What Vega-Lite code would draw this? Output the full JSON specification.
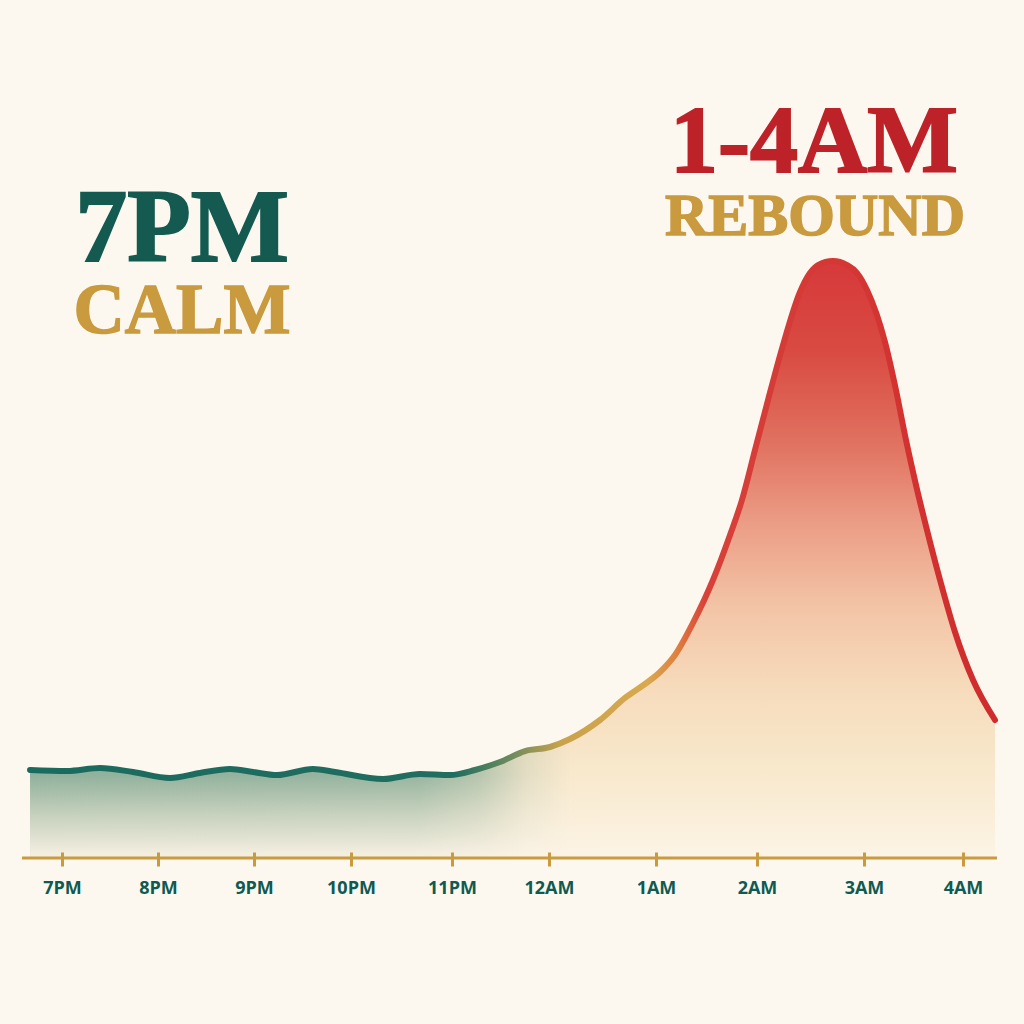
{
  "$schema": "https://vega.github.io/schema/vega-lite/v6.json",
  "width": 975,
  "height": 858,
  "autosize": "none",
  "padding": {"left": 22, "top": 0, "right": 27, "bottom": 166},
  "background": "#fcf8ef",
  "config": {"view": {"stroke": null}},
  "datasets": {
    "curve": [
      {"t": -0.333, "level": 14.67},
      {"t": 0.052, "level": 14.5},
      {"t": 0.396, "level": 15.0},
      {"t": 0.74, "level": 14.33},
      {"t": 1.125, "level": 13.33},
      {"t": 1.4375, "level": 14.17},
      {"t": 1.75, "level": 14.83},
      {"t": 1.99, "level": 14.33},
      {"t": 2.237, "level": 13.83},
      {"t": 2.608, "level": 14.83},
      {"t": 2.835, "level": 14.33},
      {"t": 3.317, "level": 13.17},
      {"t": 3.683, "level": 14.0},
      {"t": 3.98, "level": 13.83},
      {"t": 4.237, "level": 14.67},
      {"t": 4.495, "level": 16.0},
      {"t": 4.753, "level": 17.83},
      {"t": 5.009, "level": 18.5},
      {"t": 5.196, "level": 19.83},
      {"t": 5.477, "level": 23.0},
      {"t": 5.71, "level": 26.67},
      {"t": 5.897, "level": 29.0},
      {"t": 6.04, "level": 31.0},
      {"t": 6.188, "level": 33.83},
      {"t": 6.366, "level": 39.17},
      {"t": 6.564, "level": 46.33},
      {"t": 6.733, "level": 53.83},
      {"t": 6.851, "level": 59.67},
      {"t": 6.98, "level": 68.0},
      {"t": 7.103, "level": 76.33},
      {"t": 7.243, "level": 85.5},
      {"t": 7.402, "level": 94.33},
      {"t": 7.495, "level": 97.5},
      {"t": 7.57, "level": 98.83},
      {"t": 7.71, "level": 99.5},
      {"t": 7.841, "level": 98.83},
      {"t": 7.935, "level": 97.5},
      {"t": 8.03, "level": 94.67},
      {"t": 8.212, "level": 86.0},
      {"t": 8.323, "level": 78.0},
      {"t": 8.424, "level": 69.67},
      {"t": 8.525, "level": 62.17},
      {"t": 8.636, "level": 54.67},
      {"t": 8.768, "level": 46.33},
      {"t": 8.919, "level": 37.67},
      {"t": 9.101, "level": 29.67},
      {"t": 9.323, "level": 23.0}
    ],
    "notes": [
      {"label": "7PM"},
      {"label": "CALM"},
      {"label": "1-4AM"},
      {"label": "REBOUND"}
    ]
  },
  "layer": [
    {
      "data": {"name": "curve"},
      "mark": {
        "type": "area",
        "interpolate": "monotone",
        "line": false,
        "fill": {
          "gradient": "linear", "x1": 0, "y1": 0, "x2": 0, "y2": 1,
          "stops": [
            {"offset": 0, "color": "#d6393a"},
            {"offset": 0.15, "color": "#d94a42"},
            {"offset": 0.3, "color": "#e0705f"},
            {"offset": 0.45, "color": "#eca088"},
            {"offset": 0.58, "color": "#f3c4a6"},
            {"offset": 0.72, "color": "#f6dcbc"},
            {"offset": 0.85, "color": "#f8e8cc"},
            {"offset": 1, "color": "#fcf4e6"}
          ]
        }
      },
      "encoding": {
        "x": {
          "field": "t",
          "type": "quantitative",
          "scale": {"domain": [0, 1, 2, 3, 4, 5, 6, 7, 8, 9], "range": [40, 136, 232, 329, 430, 527, 634, 735, 842, 941], "nice": false, "zero": false},
          "axis": {
            "values": [0, 1, 2, 3, 4, 5, 6, 7, 8, 9],
            "labelExpr": "['7PM','8PM','9PM','10PM','11PM','12AM','1AM','2AM','3AM','4AM'][datum.value]",
            "domain": false,
            "grid": false,
            "title": null,
            "offset": -6,
            "zindex": 1,
            "tickSize": 14,
            "tickWidth": 3,
            "tickColor": "#c99a3e",
            "labelFont": "Open Sans",
            "labelFontWeight": "bold",
            "labelFontSize": 18,
            "labelColor": "#0f5a51",
            "labelPadding": 13,
            "labelFlush": false,
            "labelOverlap": false
          }
        },
        "y": {
          "field": "level",
          "type": "quantitative",
          "scale": {"domain": [0, 143], "nice": false, "zero": true},
          "axis": null
        }
      }
    },
    {
      "data": {"name": "curve"},
      "transform": [{"filter": "datum.t <= 5.2"}],
      "mark": {
        "type": "area", "interpolate": "monotone", "line": false,
        "fill": {"gradient": "linear", "x1": 0, "y1": 0, "x2": 1, "y2": 0,
          "stops": [
            {"offset": 0, "color": "rgba(42,122,108,0.5)"},
            {"offset": 0.72, "color": "rgba(42,122,108,0.47)"},
            {"offset": 0.83, "color": "rgba(42,122,108,0.32)"},
            {"offset": 0.92, "color": "rgba(42,122,108,0.1)"},
            {"offset": 1, "color": "rgba(42,122,108,0)"}
          ]}
      },
      "encoding": {
        "x": {"field": "t", "type": "quantitative"},
        "y": {"field": "level", "type": "quantitative"}
      }
    },
    {
      "data": {"name": "curve"},
      "transform": [{"filter": "datum.t <= 5.5"}],
      "mark": {
        "type": "area", "interpolate": "monotone", "line": false,
        "fill": {"gradient": "linear", "x1": 0, "y1": 0, "x2": 0, "y2": 1,
          "stops": [
            {"offset": 0, "color": "rgba(247,224,194,0)"},
            {"offset": 0.4, "color": "rgba(248,233,205,0)"},
            {"offset": 0.69, "color": "rgba(250,238,217,0.5)"},
            {"offset": 0.96, "color": "rgba(252,243,229,0.9)"},
            {"offset": 1, "color": "rgba(252,244,230,0.92)"}
          ]}
      },
      "encoding": {
        "x": {"field": "t", "type": "quantitative"},
        "y": {"field": "level", "type": "quantitative"}
      }
    },
    {
      "data": {"name": "notes"},
      "transform": [{"filter": "datum.label == '7PM'"}],
      "mark": {"type": "rule", "stroke": "#c99a3e", "strokeWidth": 3},
      "encoding": {
        "x": {"datum": -0.4167, "type": "quantitative"},
        "x2": {"datum": 9.343},
        "y": {"datum": 0, "type": "quantitative"}
      }
    },
    {
      "data": {"name": "curve"},
      "mark": {
        "type": "line",
        "interpolate": "monotone",
        "strokeWidth": 6,
        "strokeCap": "round",
        "stroke": {
          "gradient": "linear", "x1": 0, "y1": 0, "x2": 1, "y2": 0,
          "stops": [
            {"offset": 0, "color": "#1a6a5e"},
            {"offset": 0.44, "color": "#1f6e60"},
            {"offset": 0.5, "color": "#6f8b5e"},
            {"offset": 0.55, "color": "#c9a24c"},
            {"offset": 0.64, "color": "#d8a94e"},
            {"offset": 0.67, "color": "#e0803f"},
            {"offset": 0.70, "color": "#d8413a"},
            {"offset": 1, "color": "#cf2c2d"}
          ]
        }
      },
      "encoding": {
        "x": {"field": "t", "type": "quantitative"},
        "y": {"field": "level", "type": "quantitative"}
      }
    },
    {
      "data": {"name": "notes"},
      "transform": [{"filter": "datum.label == '7PM'"}],
      "mark": {"type": "text", "font": "Liberation Serif", "fontWeight": "bold", "fontSize": 104, "fill": "#145a50", "stroke": "#145a50", "strokeWidth": 2, "align": "center", "baseline": "alphabetic"},
      "encoding": {"text": {"field": "label"}, "x": {"datum": 1.25, "type": "quantitative"}, "y": {"datum": 99.5, "type": "quantitative"}}
    },
    {
      "data": {"name": "notes"},
      "transform": [{"filter": "datum.label == 'CALM'"}],
      "mark": {"type": "text", "font": "Liberation Serif", "fontWeight": "bold", "fontSize": 71, "fill": "#c99a3e", "stroke": "#c99a3e", "strokeWidth": 1.5, "align": "center", "baseline": "alphabetic"},
      "encoding": {"text": {"field": "label"}, "x": {"datum": 1.25, "type": "quantitative"}, "y": {"datum": 87.5, "type": "quantitative"}}
    },
    {
      "data": {"name": "notes"},
      "transform": [{"filter": "datum.label == '1-4AM'"}],
      "mark": {"type": "text", "font": "Liberation Serif", "fontWeight": "bold", "fontSize": 96, "fill": "#be2229", "stroke": "#be2229", "strokeWidth": 2, "align": "center", "baseline": "alphabetic"},
      "encoding": {"text": {"field": "label"}, "x": {"datum": 7.533, "type": "quantitative"}, "y": {"datum": 114.33, "type": "quantitative"}}
    },
    {
      "data": {"name": "notes"},
      "transform": [{"filter": "datum.label == 'REBOUND'"}],
      "mark": {"type": "text", "font": "Liberation Serif", "fontWeight": "bold", "fontSize": 60, "fill": "#c99a3e", "stroke": "#c99a3e", "strokeWidth": 1.5, "align": "center", "baseline": "alphabetic"},
      "encoding": {"text": {"field": "label"}, "x": {"datum": 7.542, "type": "quantitative"}, "y": {"datum": 103.83, "type": "quantitative"}}
    }
  ]
}
